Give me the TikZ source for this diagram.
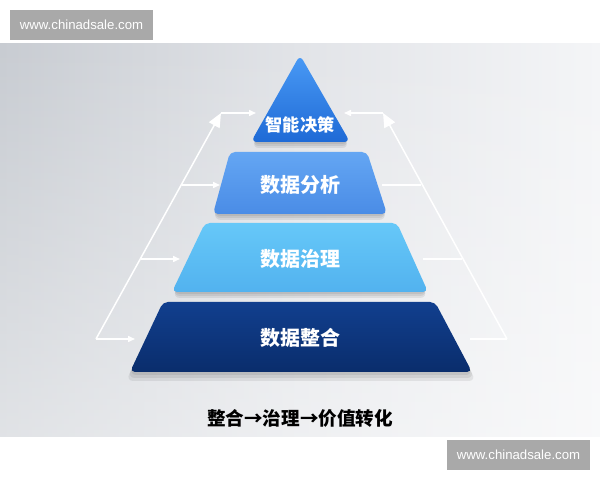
\documentclass[tikz,border=0pt]{standalone}
\usepackage{fontspec}
\setmainfont{Liberation Sans}
\newfontfamily\cjk{Noto Sans CJK SC}
\usetikzlibrary{arrows.meta,fadings}
\definecolor{bgL}{HTML}{C8CCD2}
\definecolor{bgM}{HTML}{E2E4E8}
\definecolor{bgR}{HTML}{F4F5F7}
\definecolor{wm}{HTML}{A9A9A9}
\definecolor{topA}{HTML}{4A9AF5}
\definecolor{topB}{HTML}{1E6AD6}
\definecolor{anaA}{HTML}{64A6F3}
\definecolor{anaB}{HTML}{4A8CE6}
\definecolor{govA}{HTML}{66C8F8}
\definecolor{govB}{HTML}{52B2EF}
\definecolor{intA}{HTML}{113F8E}
\definecolor{intB}{HTML}{0A2D6C}
\begin{document}
\begin{tikzpicture}[x=0.5pt,y=-0.5pt,
  layer/.style={rounded corners=2.5pt},
  shad/.style={rounded corners=4pt, fill=black, opacity=0.07},
  lbl/.style={font=\cjk\bfseries\fontsize{10}{12}\selectfont, text=white, inner sep=0pt},
  flow/.style={draw=white, line width=0.75pt},
  bigtip/.style={-{Triangle[length=7pt,width=6pt]}},
  smalltip/.style={-{Triangle[length=3.5pt,width=3pt]}},
  wmbox/.style={fill=wm, text=white, minimum width=71.5pt, minimum height=15pt, inner sep=0pt, font=\fontsize{6.6}{8}\selectfont}]
\useasboundingbox (0,0) rectangle (600,480);
\fill[white] (0,0) rectangle (600,480);
% background
\shade[left color=bgL, right color=bgR, middle color=bgM] (0,44) rectangle (600,437);
\fill[white, path fading=north, opacity=0.45] (0,44) rectangle (600,437);
% watermarks
\node[wmbox] (wm1) at (81.5,25) {www.chinadsale.com};
\node[wmbox] (wm2) at (518.5,455) {www.chinadsale.com};
% shadows
\foreach \d in {3,6,9} {
  \fill[shad] (163,302+\d) -- (435,302+\d) -- (472+\d/2,372+\d) -- (130-\d/2,372+\d) -- cycle;
  \fill[shad] (205,223+\d) -- (397,223+\d) -- (428,292+\d/1.5) -- (172,292+\d/1.5) -- cycle;
  \fill[shad] (230,152+\d) -- (367,152+\d) -- (387,214+\d/1.5) -- (213,214+\d/1.5) -- cycle;
  \fill[shad] (300,60+\d) -- (350,142+\d/1.5) -- (251,142+\d/1.5) -- cycle;
}
% layers
\shade[layer, top color=intA, bottom color=intB] (163,302) -- (435,302) -- (472,372) -- (130,372) -- cycle;
\shade[layer, top color=govA, bottom color=govB] (205,223) -- (397,223) -- (428,292) -- (172,292) -- cycle;
\shade[layer, top color=anaA, bottom color=anaB] (230,152) -- (367,152) -- (387,214) -- (213,214) -- cycle;
\shade[layer, rounded corners=3pt, top color=topA, bottom color=topB] (300,55) -- (350,142) -- (251,142) -- cycle;
% labels
\node[lbl, font=\cjk\bfseries\fontsize{8.6}{10}\selectfont] (t1) at (300,125) {智能决策};
\node[lbl] (t2) at (300,185) {数据分析};
\node[lbl] (t3) at (300,259) {数据治理};
\node[lbl] (t4) at (300,338) {数据整合};
% left flow
\coordinate (L0) at (96,339);
\coordinate (L1) at (182,185);
\coordinate (L2) at (140.6,259);
\coordinate (Lt) at (221,113);
\coordinate (Lt2) at (256,113);
\coordinate (La) at (220,185);
\coordinate (Lb) at (180,259);
\coordinate (Lc) at (135,339);
\draw[flow, bigtip] (L0) -- (Lt);
\draw[flow, smalltip] (Lt) -- (Lt2);
\draw[flow, smalltip] (L1) -- (La);
\draw[flow, smalltip] (L2) -- (Lb);
\draw[flow, smalltip] (L0) -- (Lc);
% right flow
\coordinate (R0) at (507,339);
\coordinate (R1) at (421,185);
\coordinate (R2) at (462,259);
\coordinate (Rt) at (383,113);
\coordinate (Rt2) at (344,113);
\coordinate (Ra) at (382,185);
\coordinate (Rb) at (423,259);
\coordinate (Rc) at (470,339);
\draw[flow, bigtip] (R0) -- (Rt);
\draw[flow, smalltip] (Rt) -- (Rt2);
\draw[flow] (R1) -- (Ra);
\draw[flow] (R2) -- (Rb);
\draw[flow] (R0) -- (Rc);
% caption
\node[font=\cjk\fontsize{9.3}{11}\selectfont\bfseries, text=black, inner sep=0pt] (cap) at (300,418) {整合→治理→价值转化};
\end{tikzpicture}
\end{document}
